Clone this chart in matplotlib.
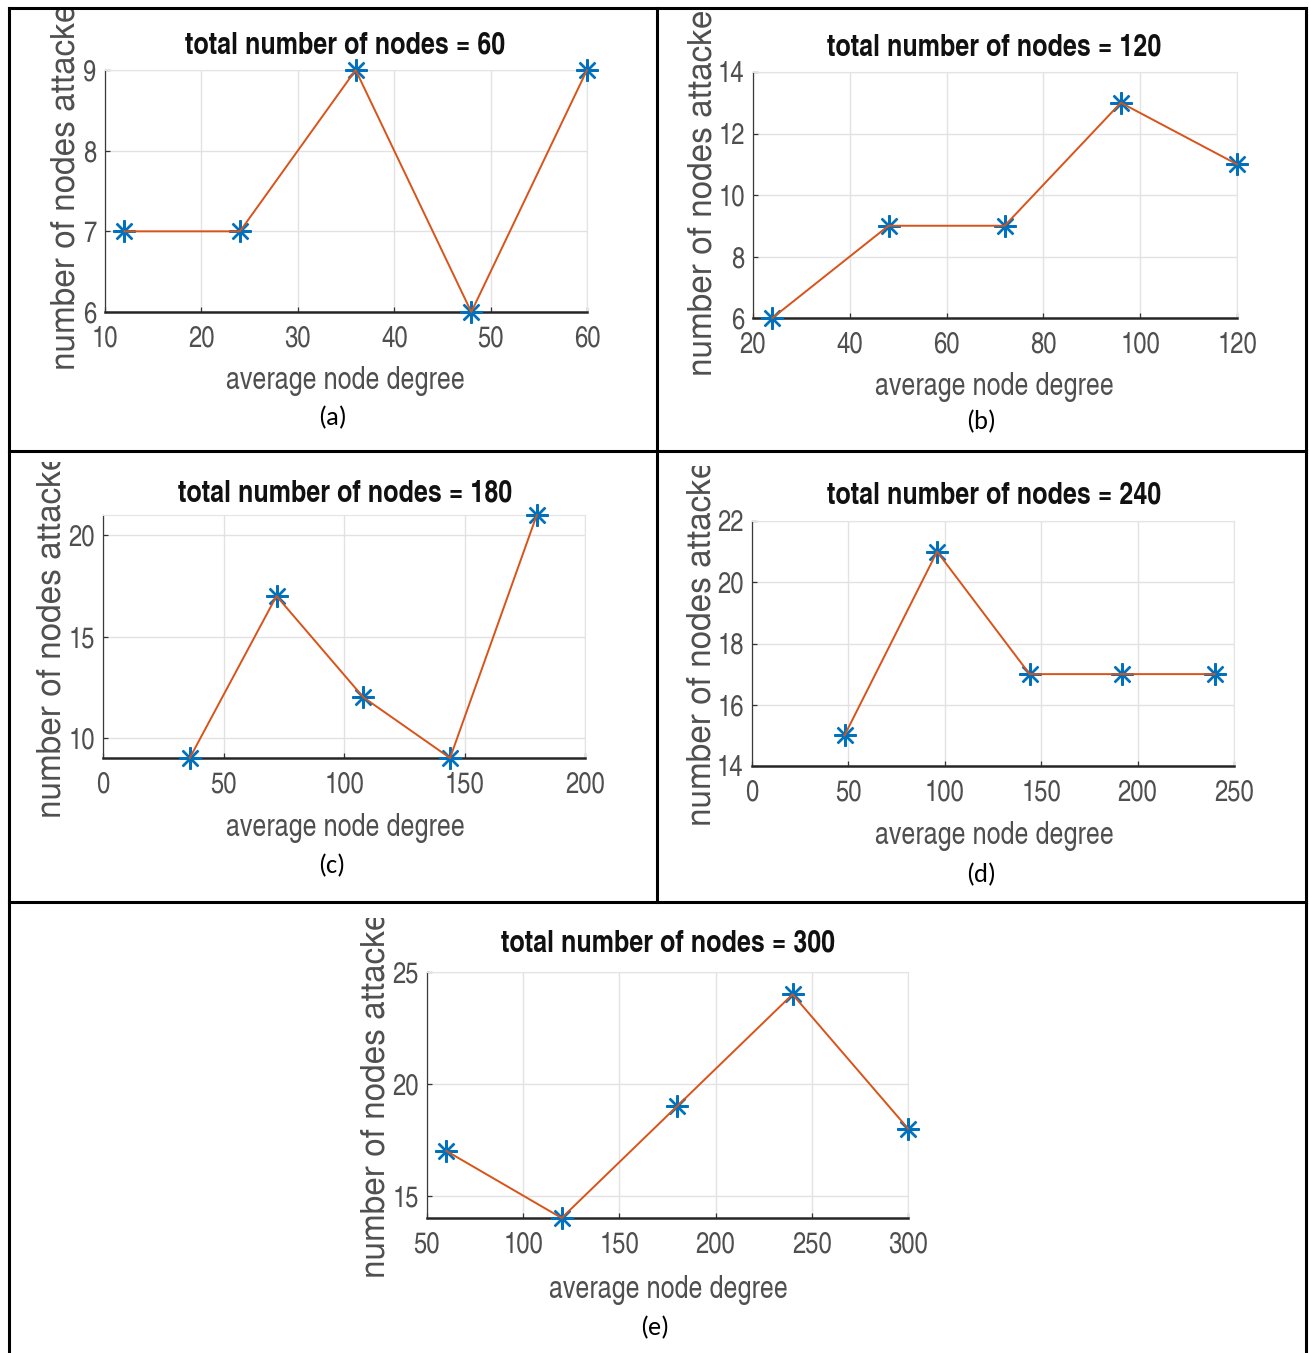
import matplotlib
matplotlib.use('Agg')
import matplotlib.pyplot as plt
from matplotlib.lines import Line2D
from matplotlib.transforms import Bbox, TransformedBbox

# data for each network size
node_totals = [60, 120, 180, 240, 300]
panel_tags = ['(a)', '(b)', '(c)', '(d)', '(e)']
deg_a = [12, 24, 36, 48, 60]
att_a = [7, 7, 9, 6, 9]
deg_b = [24, 48, 72, 96, 120]
att_b = [6, 9, 9, 13, 11]
deg_c = [36, 72, 108, 144, 180]
att_c = [9, 17, 12, 9, 21]
deg_d = [48, 96, 144, 192, 240]
att_d = [15, 21, 17, 17, 17]
deg_e = [60, 120, 180, 240, 300]
att_e = [17, 14, 19, 24, 18]

W, H = 1309, 1353
fig = plt.figure(figsize=(W / 100, H / 100), dpi=100)

NARROW = ['TeX Gyre Heros Cn', 'Liberation Sans', 'DejaVu Sans']
REG = ['TeX Gyre Heros', 'Liberation Sans', 'DejaVu Sans']
TAGF = ['Carlito', 'Lato', 'DejaVu Sans']
GRAY = '#4f4f4f'


def fx(x):
    return x / W


def fy(y):
    return 1 - y / H


# per panel: axes box (px), limits, ticks, text anchors (px)
panels = [
    dict(x=deg_a, y=att_a, box=(105, 70, 587, 312), xlim=(10, 60), ylim=(6, 9),
         xt=range(10, 61, 10), yt=range(6, 10), title=(345, 45), xl=(345, 381),
         tag=(333, 418), yl=(66, 370), clip=(10, 450)),
    dict(x=deg_b, y=att_b, box=(753, 72, 1237, 318), xlim=(20, 120), ylim=(6, 14),
         xt=range(20, 121, 20), yt=range(6, 15, 2), title=(994, 47), xl=(994, 387),
         tag=(981, 422), yl=(703, 376), clip=(12, 450)),
    dict(x=deg_c, y=att_c, box=(103, 515, 585, 758), xlim=(0, 200), ylim=(9, 21),
         xt=range(0, 201, 50), yt=[10, 15, 20], title=(345, 493), xl=(345, 828),
         tag=(332, 866), yl=(52, 818), clip=(462, 900)),
    dict(x=deg_d, y=att_d, box=(752, 521, 1234, 766), xlim=(0, 250), ylim=(14, 22),
         xt=range(0, 251, 50), yt=range(14, 23, 2), title=(994, 495), xl=(994, 836),
         tag=(981, 875), yl=(702, 826), clip=(466, 900)),
    dict(x=deg_e, y=att_e, box=(427, 972, 908, 1218), xlim=(50, 300), ylim=(14, 25),
         xt=range(50, 301, 50), yt=[15, 20, 25], title=(668, 944), xl=(668, 1290),
         tag=(655, 1328), yl=(376, 1278), clip=(918, 1353)),
]

for total, tag, p in zip(node_totals, panel_tags, panels):
    l, t, r, b = p['box']
    ax = fig.add_axes([fx(l), fy(b), fx(r - l), (b - t) / H])
    ax.set_xlim(*p['xlim'])
    ax.set_ylim(*p['ylim'])
    ax.set_xticks(list(p['xt']))
    ax.set_yticks(list(p['yt']))
    ax.grid(True, color='#e2e2e2', lw=1.0)
    ax.set_axisbelow(True)
    for side in ['top', 'right']:
        ax.spines[side].set_color('#e4e4e4')
        ax.spines[side].set_linewidth(0.8)
    ax.spines['left'].set_color('#3a3a3a')
    ax.spines['left'].set_linewidth(0.9)
    ax.spines['bottom'].set_color('#262626')
    ax.spines['bottom'].set_linewidth(1.8)
    ax.tick_params(direction='in', length=3.5, width=0.9, color='#333333',
                   labelcolor=GRAY, labelsize=21, top=False, right=False)
    ax.tick_params(axis='x', pad=10)
    ax.tick_params(axis='y', pad=6)
    for lab in ax.get_xticklabels() + ax.get_yticklabels():
        lab.set_family(NARROW)

    # markers first, connecting line drawn over them
    ax.plot(p['x'], p['y'], linestyle='none', marker=(8, 2, 0), markersize=16,
            markeredgewidth=1.7, color='#0072BD', clip_on=False, zorder=3)
    ax.plot(p['x'], p['y'], color='#D95319', lw=1.4, clip_on=False, zorder=4)

    fig.text(fx(p['title'][0]), fy(p['title'][1]), f'total number of nodes = {total}',
             ha='center', va='center', fontsize=22, fontweight='bold',
             family=NARROW, color='#111111')
    fig.text(fx(p['xl'][0]), fy(p['xl'][1]), 'average node degree',
             ha='center', va='center', fontsize=22, family=NARROW, color=GRAY)
    fig.text(fx(p['tag'][0]), fy(p['tag'][1]), tag,
             ha='center', va='center', fontsize=19, family=TAGF, color='black')
    ylab = fig.text(fx(p['yl'][0]), fy(p['yl'][1]), 'number of nodes attacked',
                    ha='center', va='bottom', rotation=90, fontsize=24,
                    family=REG, color=GRAY)
    c0, c1 = p['clip']
    ylab.set_clip_box(TransformedBbox(Bbox([[0, fy(c1)], [1, fy(c0)]]),
                                      fig.transFigure))
    ylab.set_clip_on(True)

# panel frame lines
frame = [
    ((9, 1306), (8, 8)),
    ((9, 1306), (451, 451)),
    ((9, 1306), (902, 902)),
    ((9, 9), (8, 1353)),
    ((1306, 1306), (8, 1353)),
    ((657, 657), (8, 902)),
]
for xs, ys in frame:
    fig.add_artist(Line2D([fx(v) for v in xs], [fy(v) for v in ys],
                          color='black', lw=2.2, transform=fig.transFigure))

fig.savefig('out.png', dpi=100)
